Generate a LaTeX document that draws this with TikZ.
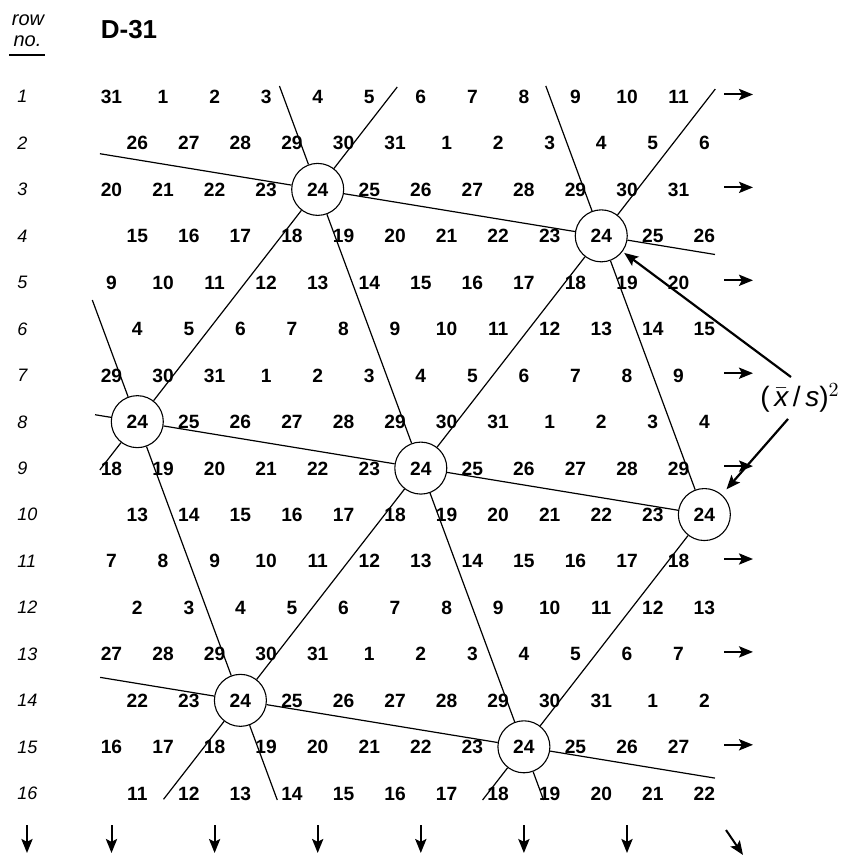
\documentclass[tikz,border=0pt]{standalone}
\usepackage{fontspec}
\setmainfont{Liberation Sans}
\usetikzlibrary{arrows.meta, calc}

\begin{document}
\begin{tikzpicture}[
  x=0.5pt, y=-0.5pt,
  >={Stealth[length=7pt, width=5.6pt, inset=1.4pt]},
  num/.style={inner sep=0pt, text height=6.9pt, text depth=0pt, font=\fontsize{9.6}{11}\selectfont\bfseries},
  hub/.style={circle, draw=black, fill=white, line width=0.55pt, minimum size=26pt, inner sep=0pt, text height=6.9pt, text depth=0pt, font=\fontsize{9.6}{11}\selectfont\bfseries},
  rowlbl/.style={anchor=west, inner sep=0pt, text height=6.4pt, text depth=0pt, font=\fontsize{9}{11}\selectfont\itshape},
  hdr/.style={inner sep=0pt, font=\fontsize{10}{12}\selectfont\itshape},
  lattice/.style={line width=0.6pt},
  flow/.style={->, line width=1pt},
  callout/.style={->, line width=1.1pt}
]
\useasboundingbox (0,0) rectangle (854,855);

% Header
\node[hdr] (rowhd) at (28,20.5) {row};
\node[hdr] (nohd) at (27.5,41) {no.};
\coordinate (ul1) at (9,55);
\coordinate (ul2) at (45,55);
\draw[line width=1pt] (ul1) -- (ul2);
\node[font=\fontsize{13}{15}\selectfont\bfseries] (title) at (129,30) {D-31};

% Grid of numbers, every 24 circled
\foreach \r in {1,...,16} {
  \pgfmathtruncatemacro{\sub}{5*int(\r/2) + 6*int((\r-1)/2)}
  \pgfmathsetmacro{\xo}{137.3 - 25.8*mod(\r,2)}
  \pgfmathsetmacro{\yy}{96.5 + 46.45*(\r-1)}
  \node[rowlbl] (r\r) at (17,\yy) {\r};
  \foreach \k in {0,...,11} {
    \pgfmathtruncatemacro{\v}{mod(154 - \sub + \k, 31) + 1}
    \pgfmathsetmacro{\xx}{\xo + 51.55*\k}
    \ifnum\v=24
      \node[hub] (c\r) at (\xx,\yy) {24};
    \else
      \node[num] (n\r-\k) at (\xx,\yy) {\v};
    \fi
  }
}

% Free ends of the lattice lines
\coordinate (l1a) at ($(c3)!-0.768!(c4)$);
\coordinate (l1b) at ($(c3)!1.401!(c4)$);
\coordinate (l2a) at ($(c8)!-0.149!(c9)$);
\coordinate (l3a) at ($(c14)!-0.495!(c15)$);
\coordinate (l3b) at ($(c14)!1.674!(c15)$);
\coordinate (s1a) at ($(c8)!-0.208!(c3)$);
\coordinate (s1b) at ($(c8)!1.441!(c3)$);
\coordinate (s2a) at ($(c14)!-0.213!(c4)$);
\coordinate (s2b) at ($(c14)!1.316!(c4)$);
\coordinate (s3a) at ($(c15)!-0.229!(c10)$);
\coordinate (d1a) at ($(c3)!-0.1855!(c15)$);
\coordinate (d1b) at ($(c3)!1.0955!(c15)$);
\coordinate (d2a) at ($(c4)!-0.538!(c10)$);
\coordinate (d3a) at ($(c8)!-0.4365!(c14)$);
\coordinate (d3b) at ($(c8)!1.3576!(c14)$);

% Shallow lines
\draw[lattice] (l1a) -- (c3) -- (c4) -- (l1b);
\draw[lattice] (l2a) -- (c8) -- (c9) -- (c10);
\draw[lattice] (l3a) -- (c14) -- (c15) -- (l3b);
% Rising lines
\draw[lattice] (s1a) -- (c8) -- (c3) -- (s1b);
\draw[lattice] (s2a) -- (c14) -- (c9) -- (c4) -- (s2b);
\draw[lattice] (s3a) -- (c15) -- (c10);
% Falling lines
\draw[lattice] (d1a) -- (c3) -- (c9) -- (c15) -- (d1b);
\draw[lattice] (d2a) -- (c4) -- (c10);
\draw[lattice] (d3a) -- (c8) -- (c14) -- (d3b);

% Arrows on the right of odd rows
\foreach \r in {1,3,...,15} {
  \pgfmathsetmacro{\yy}{94.5 + 46.45*(\r-1)}
  \coordinate (ra\r) at (724,\yy);
  \coordinate (rb\r) at (753,\yy);
  \draw[flow] (ra\r) -- (rb\r);
}

% Arrows below the last row
\coordinate (da) at (27,825);
\coordinate (db) at (27,853);
\draw[flow] (da) -- (db);
\foreach \k in {0,2,...,10} {
  \pgfmathsetmacro{\xx}{111.5 + 51.55*\k}
  \coordinate (da\k) at (\xx,825);
  \coordinate (db\k) at (\xx,853);
  \draw[flow] (da\k) -- (db\k);
}
\coordinate (dga) at (726,830);
\coordinate (dgb) at (743,855);
\draw[flow] (dga) -- (dgb);

% Ratio label
\node[inner sep=3pt, font=\fontsize{14}{16}\selectfont] (ratio) at (800,398) {(\,$\bar{\mbox{\itshape x}}$\,/\,\textit{s})$^{2}$};
\draw[callout, shorten >=1pt] ([xshift=-4.5pt]ratio.north) -- (c4);
\draw[callout, shorten >=3.5pt] ([xshift=-6pt]ratio.south) -- (c10);

\end{tikzpicture}
\end{document}
